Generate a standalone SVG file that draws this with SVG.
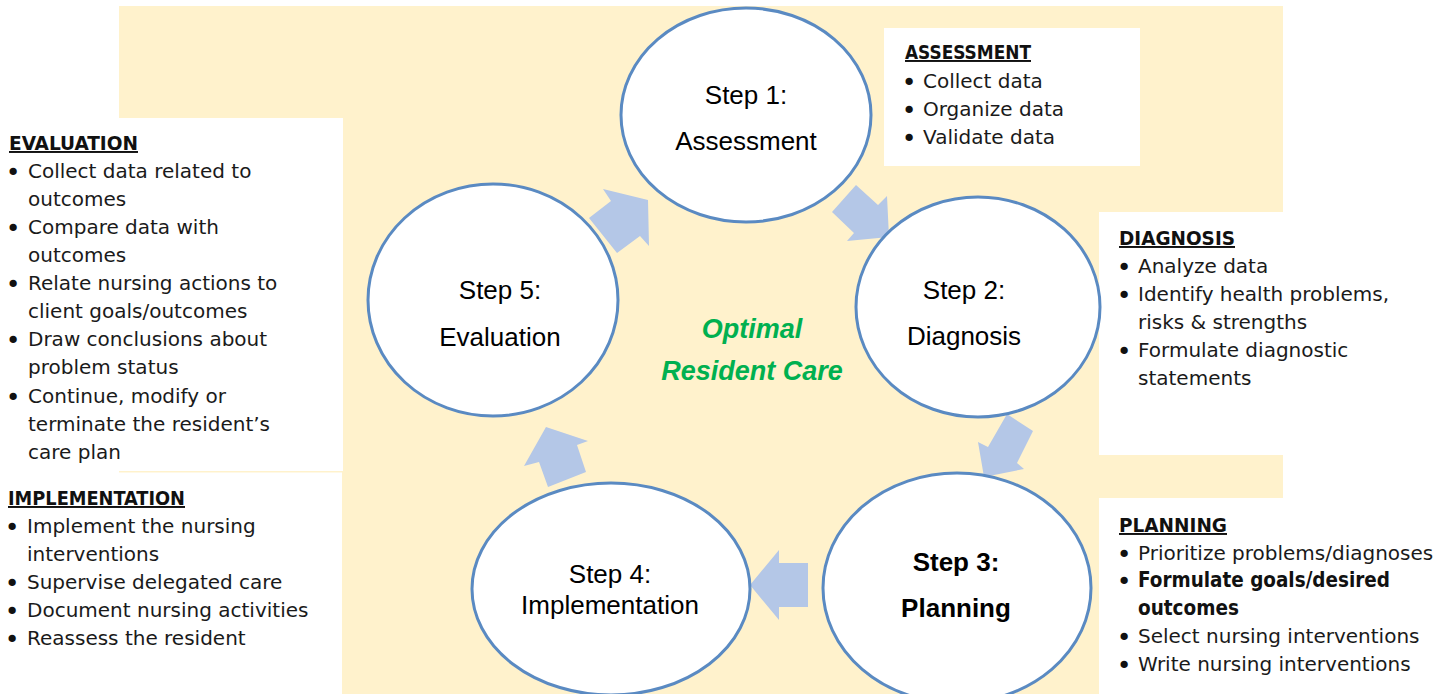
<svg xmlns="http://www.w3.org/2000/svg" width="1455" height="694" viewBox="0 0 1455 694">
  <style>
    .panel { fill: #FFF2CC; }
    .box { fill: #FFFFFF; }
    .step { fill: #FFFFFF; stroke: #5A8AC2; stroke-width: 3; }
    .arrow { fill: #B4C7E7; }
    .lbl { font-family: "Liberation Sans", Arial, sans-serif; font-size: 26px; fill: #000; text-anchor: middle; }
    .lbl-b { font-weight: bold; }
    .hub { font-family: "Liberation Sans", Arial, sans-serif; font-size: 27px; font-weight: bold; font-style: italic; fill: #00B050; text-anchor: middle; }
    .hd { font-family: "DejaVu Sans Condensed", "DejaVu Sans", sans-serif; font-stretch: condensed; font-weight: bold; font-size: 19.5px; fill: #111; text-decoration: underline; }
    .it { font-family: "DejaVu Sans", "Liberation Sans", sans-serif; font-size: 20px; fill: #1a1a1a; }
    .itb { font-family: "DejaVu Sans Condensed", "DejaVu Sans", sans-serif; font-stretch: condensed; font-weight: bold; font-size: 20.5px; fill: #111; }
    .bul { font-family: "DejaVu Sans", sans-serif; font-size: 25px; fill: #111; text-anchor: middle; }
  </style>

  <!-- cream backdrop -->
  <rect class="panel" x="119" y="6" width="1164" height="688"/>

  <!-- side note boxes (bullet glyphs sit 3px below the line baseline so the dot centres on the x-height) -->
  <g id="note-assessment">
    <rect class="box" x="884" y="28" width="256" height="138"/>
    <text class="hd" x="905" y="59" textLength="126" lengthAdjust="spacingAndGlyphs">ASSESSMENT</text>
    <text class="bul" x="909" y="91">•</text><text class="it" x="923" y="88">Collect data</text>
    <text class="bul" x="909" y="119">•</text><text class="it" x="923" y="116">Organize data</text>
    <text class="bul" x="909" y="147">•</text><text class="it" x="923" y="144">Validate data</text>
  </g>

  <g id="note-diagnosis">
    <rect class="box" x="1099" y="212" width="356" height="243"/>
    <text class="hd" x="1119" y="245" textLength="116" lengthAdjust="spacingAndGlyphs">DIAGNOSIS</text>
    <text class="bul" x="1124" y="276">•</text><text class="it" x="1138" y="273">Analyze data</text>
    <text class="bul" x="1124" y="304">•</text><text class="it" x="1138" y="301">Identify health problems,</text>
    <text class="it" x="1138" y="329">risks &amp; strengths</text>
    <text class="bul" x="1124" y="360">•</text><text class="it" x="1138" y="357">Formulate diagnostic</text>
    <text class="it" x="1138" y="385">statements</text>
  </g>

  <g id="note-planning">
    <rect class="box" x="1099" y="498" width="356" height="196"/>
    <text class="hd" x="1119" y="532" textLength="108" lengthAdjust="spacingAndGlyphs">PLANNING</text>
    <text class="bul" x="1124" y="563">•</text><text class="it" x="1138" y="560">Prioritize problems/diagnoses</text>
    <text class="bul" x="1124" y="590">•</text><text class="itb" x="1138" y="587" textLength="252" lengthAdjust="spacingAndGlyphs">Formulate goals/desired</text>
    <text class="itb" x="1138" y="615">outcomes</text>
    <text class="bul" x="1124" y="646">•</text><text class="it" x="1138" y="643">Select nursing interventions</text>
    <text class="bul" x="1124" y="674">•</text><text class="it" x="1138" y="671">Write nursing interventions</text>
  </g>

  <g id="note-evaluation">
    <rect class="box" x="0" y="118" width="343" height="353"/>
    <text class="hd" x="9" y="150" textLength="129" lengthAdjust="spacingAndGlyphs">EVALUATION</text>
    <text class="bul" x="13" y="181">•</text><text class="it" x="28" y="178">Collect data related to</text>
    <text class="it" x="28" y="206">outcomes</text>
    <text class="bul" x="13" y="237">•</text><text class="it" x="28" y="234">Compare data with</text>
    <text class="it" x="28" y="262">outcomes</text>
    <text class="bul" x="13" y="293">•</text><text class="it" x="28" y="290">Relate nursing actions to</text>
    <text class="it" x="28" y="318">client goals/outcomes</text>
    <text class="bul" x="13" y="349">•</text><text class="it" x="28" y="346">Draw conclusions about</text>
    <text class="it" x="28" y="374">problem status</text>
    <text class="bul" x="13" y="406">•</text><text class="it" x="28" y="403">Continue, modify or</text>
    <text class="it" x="28" y="431">terminate the resident’s</text>
    <text class="it" x="28" y="459">care plan</text>
  </g>

  <g id="note-implementation">
    <rect class="box" x="0" y="472.5" width="342" height="221.5"/>
    <text class="hd" x="8" y="505" textLength="177" lengthAdjust="spacingAndGlyphs">IMPLEMENTATION</text>
    <text class="bul" x="12" y="536">•</text><text class="it" x="27" y="533">Implement the nursing</text>
    <text class="it" x="27" y="561">interventions</text>
    <text class="bul" x="12" y="592">•</text><text class="it" x="27" y="589">Supervise delegated care</text>
    <text class="bul" x="12" y="620">•</text><text class="it" x="27" y="617">Document nursing activities</text>
    <text class="bul" x="12" y="648">•</text><text class="it" x="27" y="645">Reassess the resident</text>
  </g>

  <!-- cycle arrows between the steps -->
  <g id="connectors">
    <polygon class="arrow" points="603,189 648,200 649,246 640,236 617,253 589,218 611,201"/>
    <polygon class="arrow" points="856,185 878,205 887,196 889,237 847,241 854,233 832,212"/>
    <polygon class="arrow" points="1007,414 1033,431 1017,463 1024,469 984,477 978,442 988,447"/>
    <polygon class="arrow" points="808,563 808,607 779,607 779,620 750,585 779,550 779,563"/>
    <polygon class="arrow" points="546,427 588,441 577,445 586,472 548,487 539,462 524,466"/>
  </g>

  <g id="step1">
    <ellipse class="step" cx="746" cy="115" rx="125" ry="107"/>
    <text class="lbl" x="746" y="104">Step 1:</text>
    <text class="lbl" x="746" y="150">Assessment</text>
  </g>

  <g id="step2">
    <ellipse class="step" cx="978" cy="307" rx="122" ry="110"/>
    <text class="lbl" x="964" y="299">Step 2:</text>
    <text class="lbl" x="964" y="345">Diagnosis</text>
  </g>

  <g id="step3">
    <ellipse class="step" cx="957" cy="588" rx="134" ry="115"/>
    <text class="lbl lbl-b" x="956" y="571">Step 3:</text>
    <text class="lbl lbl-b" x="956" y="617">Planning</text>
  </g>

  <g id="step4">
    <ellipse class="step" cx="611" cy="589" rx="139" ry="106"/>
    <text class="lbl" x="610" y="583">Step 4:</text>
    <text class="lbl" x="610" y="614">Implementation</text>
  </g>

  <g id="step5">
    <ellipse class="step" cx="493" cy="300" rx="125" ry="116"/>
    <text class="lbl" x="500" y="299">Step 5:</text>
    <text class="lbl" x="500" y="346">Evaluation</text>
  </g>

  <g id="hub">
    <text class="hub" x="752" y="338">Optimal</text>
    <text class="hub" x="752" y="380">Resident Care</text>
  </g>
</svg>
